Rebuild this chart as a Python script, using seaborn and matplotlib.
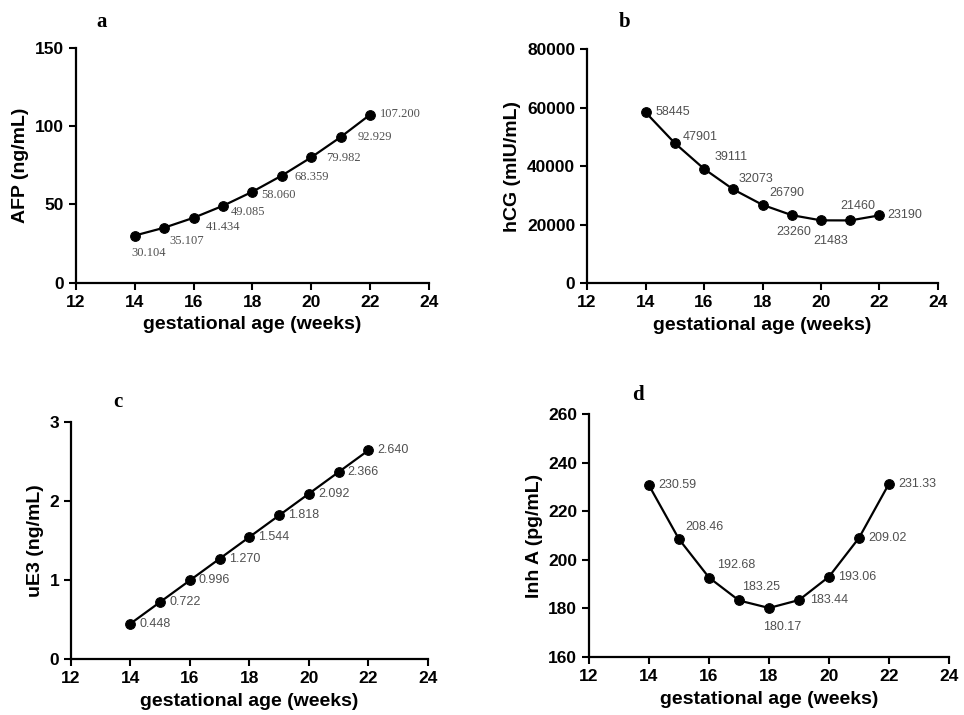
import numpy as np
import pandas as pd
import matplotlib
matplotlib.use("Agg")
import matplotlib.pyplot as plt
import seaborn as sns

# data
weeks = [14, 15, 16, 17, 18, 19, 20, 21, 22]
afp = [30.104, 35.107, 41.434, 49.085, 58.060, 68.359, 79.982, 92.929, 107.200]
hcg = [58445, 47901, 39111, 32073, 26790, 23260, 21483, 21460, 23190]
ue3 = [0.448, 0.722, 0.996, 1.270, 1.544, 1.818, 2.092, 2.366, 2.640]
inha = [230.59, 208.46, 192.68, 183.25, 180.17, 183.44, 193.06, 209.02, 231.33]

afp_labels = ["30.104", "35.107", "41.434", "49.085", "58.060", "68.359", "79.982", "92.929", "107.200"]
hcg_labels = [str(v) for v in hcg]
ue3_labels = ["0.448", "0.722", "0.996", "1.270", "1.544", "1.818", "2.092", "2.366", "2.640"]
inha_labels = ["230.59", "208.46", "192.68", "183.25", "180.17", "183.44", "193.06", "209.02", "231.33"]

sns.set_style("ticks")
plt.rcParams["font.family"] = ["Liberation Sans", "DejaVu Sans"]
plt.rcParams["text.color"] = "black"
plt.rcParams["axes.labelcolor"] = "black"
plt.rcParams["xtick.color"] = "black"
plt.rcParams["ytick.color"] = "black"

fig = plt.figure(figsize=(9.64, 7.15), dpi=100)

# label offsets in pixels (dx, dy), left-aligned text, dy up positive
off_a = [(-3, -17), (5, -13), (12, -9), (8, -6), (9, -3), (13, -1), (15, -1), (17, 0), (10, 1)]
off_b = [(10, 0), (8, 6), (11, 12), (5, 10), (7, 12), (-15, -17), (-8, -21), (-10, 14), (8, 0)]
off_c = [(9, 0)] * 9
off_d = [(9, 0), (6, 12), (8, 13), (3, 13), (-6, -19), (11, 0), (9, 0), (9, 0), (9, 0)]

panels = [
    dict(rect=[0.0788, 0.6046, 0.366, 0.3287], y=afp, lab=afp_labels, off=off_a,
         ylim=(0, 150), yticks=[0, 50, 100, 150], ylabel="AFP (ng/mL)", letter="a",
         lfont="Liberation Serif", letter_xy=(102, 22)),
    dict(rect=[0.609, 0.604, 0.364, 0.327], y=hcg, lab=hcg_labels, off=off_b,
         ylim=(0, 80000), yticks=[0, 20000, 40000, 60000, 80000], ylabel="hCG (mIU/mL)", letter="b",
         lfont="Liberation Sans", letter_xy=(625, 22)),
    dict(rect=[0.0737, 0.0783, 0.370, 0.3315], y=ue3, lab=ue3_labels, off=off_c,
         ylim=(0, 3), yticks=[0, 1, 2, 3], ylabel="uE3 (ng/mL)", letter="c",
         lfont="Liberation Sans", letter_xy=(118, 402)),
    dict(rect=[0.611, 0.0811, 0.3735, 0.340], y=inha, lab=inha_labels, off=off_d,
         ylim=(160, 260), yticks=[160, 180, 200, 220, 240, 260], ylabel="Inh A (pg/mL)", letter="d",
         lfont="Liberation Sans", letter_xy=(638, 395)),
]

for p in panels:
    ax = fig.add_axes(p["rect"])
    df = pd.DataFrame({"week": weeks, "value": p["y"]})
    sns.lineplot(data=df, x="week", y="value", ax=ax, color="black", linewidth=1.6,
                 marker="o", markersize=7, markeredgecolor="black", markerfacecolor="black")
    ax.set_xlim(12, 24)
    ax.set_xticks([12, 14, 16, 18, 20, 22, 24])
    ax.set_ylim(*p["ylim"])
    ax.set_yticks(p["yticks"])
    ax.set_xlabel("gestational age (weeks)", fontsize=14, fontweight="bold", labelpad=5)
    ax.set_ylabel(p["ylabel"], fontsize=14, fontweight="bold")
    for t in ax.get_xticklabels() + ax.get_yticklabels():
        t.set_fontweight("bold")
        t.set_fontsize(12.5)
    ax.tick_params(direction="out", length=5, width=1.5, color="black")
    sns.despine(ax=ax)
    for s in ["left", "bottom"]:
        ax.spines[s].set_linewidth(1.6)
        ax.spines[s].set_color("black")
    ax.margins(0)
    for xv, yv, txt, (dx, dy) in zip(weeks, p["y"], p["lab"], p["off"]):
        ax.annotate(txt, (xv, yv), xytext=(dx * 0.72, dy * 0.72), textcoords="offset points",
                    ha="left", va="center", fontsize=9, color="#505050", family=p["lfont"])
    lx, ly = p["letter_xy"]
    fig.text(lx / 964, 1 - ly / 715, p["letter"], ha="center", va="center",
             fontsize=15, fontweight="bold", family="Liberation Serif")

fig.savefig("out.png", dpi=100)
